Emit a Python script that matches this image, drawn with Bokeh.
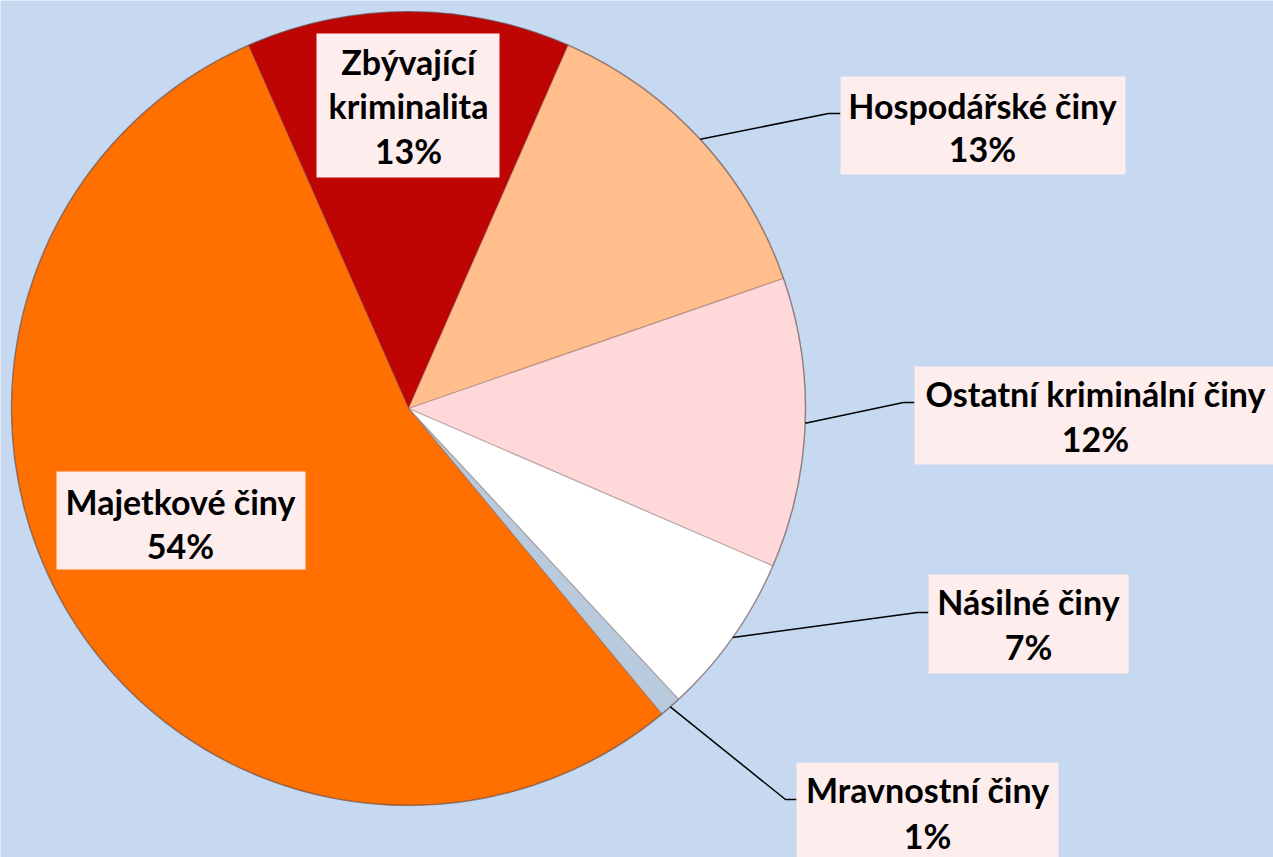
import math
from bokeh.plotting import figure
from bokeh.models import ColumnDataSource, Range1d
from bokeh.core.properties import value
from bokeh.embed import file_html
from bokeh.resources import INLINE

# ---- data (clockwise from the top) ----
categories = ["Zbývající kriminalita", "Hospodářské činy", "Ostatní kriminální činy",
              "Násilné činy", "Mravnostní činy", "Majetkové činy"]
shares = [13.2, 13.1, 11.8, 6.6, 0.9, 54.4]
pct_labels = ["13%", "13%", "12%", "7%", "1%", "54%"]
colors = ["#BF0404", "#FFBE8C", "#FFD9D9", "#FFFFFF", "#B8CADC", "#FF7000"]

# ---- layout (pixel coordinates, y downward) ----
W, H = 1273, 857
BG = "#C6D9F1"
BOX = "#FDEDED"
CX, CY, R = 408, 408, 397
START = -23.8  # clockwise degrees from 12 o'clock
FONT = "Lato"
FSIZE = "34px"
BASE_SHIFT = -12  # compensation for the renderer's baseline placement

# per label: box (left, top, right, bottom), text centre x, baselines, elbow & end of leader
label_layout = [
    dict(box=(316, 33, 499, 177), cx=408, base=[73, 117, 162], wrap=True, leader=None),
    dict(box=(840, 76, 1125, 174), cx=982, base=[117, 160], wrap=False, leader=((828, 113), (840, 113))),
    dict(box=(914, 366, 1285, 464), cx=1095, base=[405, 450], wrap=False, leader=((903, 402), (914, 402))),
    dict(box=(928, 574, 1128, 673), cx=1028, base=[613, 658], wrap=False, leader=((917, 612), (928, 612))),
    dict(box=(796, 762, 1058, 870), cx=927, base=[801, 847], wrap=False, leader=((785, 799), (796, 799))),
    dict(box=(56, 471, 305, 569), cx=180, base=[513, 557], wrap=False, leader=None),
]


def fy(py):
    return H - py


p = figure(width=W, height=H, x_range=Range1d(0, W), y_range=Range1d(0, H),
           output_backend="svg", toolbar_location=None, min_border=0)
p.axis.visible = False
p.grid.visible = False
p.outline_line_color = None
p.background_fill_color = BG
p.border_fill_color = BG

total = sum(shares)
cw = [START]
for s in shares:
    cw.append(cw[-1] + s / total * 360.0)
starts = [math.radians(90 - a) for a in cw[:-1]]
ends = [math.radians(90 - a) for a in cw[1:]]
mids = [(a + b) / 2 for a, b in zip(cw[:-1], cw[1:])]

src = ColumnDataSource(dict(start=starts, end=ends, color=colors, name=categories))
p.wedge(x=CX, y=fy(CY), radius=R, start_angle="start", end_angle="end",
        direction="clock", fill_color="color",
        line_color="#7A5A5A", line_alpha=0.35, line_width=1.2, source=src)
# soft rim
p.circle(x=CX, y=fy(CY), radius=R, fill_color=None, line_color="#5A4A4A",
         line_alpha=0.45, line_width=1.5)

# leaders
lx, ly = [], []
for lay, m in zip(label_layout, mids):
    if lay["leader"] is None:
        continue
    rad = math.radians(m)
    sx = CX + R * math.sin(rad)
    sy = CY - R * math.cos(rad)
    (ex, ey), (tx, ty) = lay["leader"]
    lx.append([sx, ex, tx])
    ly.append([fy(sy), fy(ey), fy(ty)])
p.multi_line(xs=lx, ys=ly, line_color="black", line_width=1.5)

# boxes
p.quad(left=[l["box"][0] for l in label_layout], right=[l["box"][2] for l in label_layout],
       top=[fy(l["box"][1]) for l in label_layout], bottom=[fy(l["box"][3]) for l in label_layout],
       fill_color=BOX, line_color=None)

# texts
tx_, ty_, tt_ = [], [], []
for name, pct, lay in zip(categories, pct_labels, label_layout):
    lines = (name.split(" ") if lay["wrap"] else [name]) + [pct]
    for line, b in zip(lines, lay["base"]):
        tx_.append(lay["cx"])
        ty_.append(fy(b + BASE_SHIFT))
        tt_.append(line)
p.text(x=tx_, y=ty_, text=tt_, text_align="center", text_baseline="alphabetic",
       text_font=value(FONT), text_font_style="bold", text_font_size=FSIZE,
       text_color="black")

open("out.html", "w").write(file_html(p, INLINE))
